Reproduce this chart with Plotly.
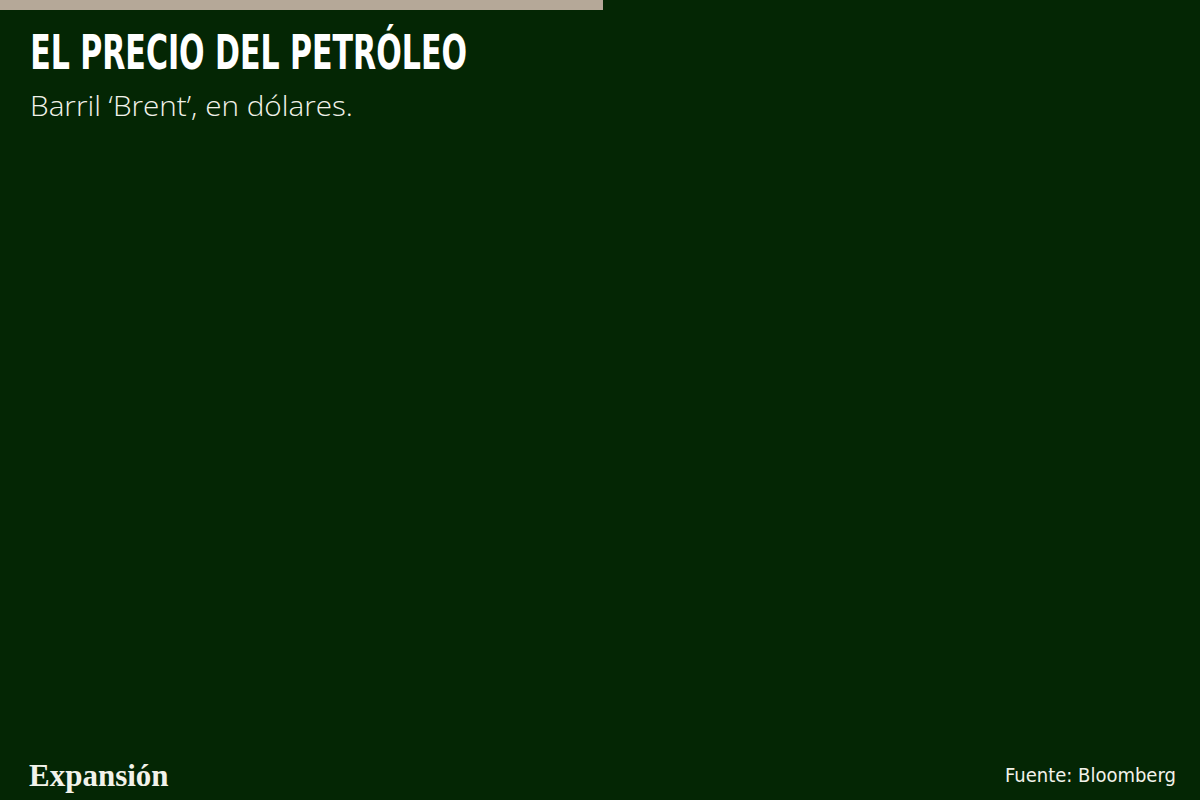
import plotly.graph_objects as go

# the reference shows an empty plot area: no series drawn yet
fechas = []
precio_brent = []

title_text = 'EL PRECIO DEL PETRÓLEO'
subtitle_text = 'Barril ‘Brent’, en dólares.'
source_text = 'Fuente: Bloomberg'
logo_text = 'Expansión'

bg = '#042604'

fig = go.Figure()
fig.add_trace(go.Scatter(x=fechas, y=precio_brent, mode='lines',
                         line=dict(color='#b5a898', width=2), showlegend=False))

fig.update_layout(
  width=1200, height=800,
  paper_bgcolor=bg, plot_bgcolor=bg,
  margin=dict(l=0, r=0, t=0, b=0),
  xaxis=dict(visible=False, range=[0, 1]),
  yaxis=dict(visible=False, range=[0, 1]),
  shapes=[dict(type='rect', xref='paper', yref='paper', x0=0, x1=603/1200, y0=1 - 10/800, y1=1,
               fillcolor='#b5a898', line=dict(width=0))],
)

# title + subtitle
fig.add_annotation(text=f'<b>{title_text}</b>', xref='paper', yref='paper', x=28/1200, y=1 - 22/800,
                   xanchor='left', yanchor='top', showarrow=False,
                   font=dict(family='DejaVu Sans Condensed', size=48, color='white'))
fig.add_annotation(text=subtitle_text, xref='paper', yref='paper', x=28/1200, y=1 - 84/800,
                   xanchor='left', yanchor='top', showarrow=False,
                   font=dict(family='Open Sans', size=28, weight=300, color='#f2f2ea'))

# footer
fig.add_annotation(text=f'<b>{logo_text}</b>', xref='paper', yref='paper', x=27/1200, y=1 - 756/800,
                   xanchor='left', yanchor='top', showarrow=False,
                   font=dict(family='Liberation Serif', size=31, color='#f2f2ea'))
fig.add_annotation(text=source_text, xref='paper', yref='paper', x=1178/1200, y=1 - 761/800,
                   xanchor='right', yanchor='top', showarrow=False,
                   font=dict(family='DejaVu Sans Condensed', size=20, color='#f2f2ea'))

# no page margin; stretch the header lines to the widths of the original faces
js = """
document.body.style.margin='0';
var widths = {'PETR': 437, 'Brent': 323};
document.querySelectorAll('.annotation-text').forEach(function(el){
  for (var k in widths) {
    if (el.textContent.indexOf(k) >= 0) {
      var w = el.getBBox().width;
      el.style.transformBox = 'fill-box';
      el.style.transformOrigin = 'left center';
      el.style.transform = 'scaleX(' + (widths[k] / w) + ')';
    }
  }
});
"""
fig.write_html('out.html', post_script=js, config={'displayModeBar': False})
